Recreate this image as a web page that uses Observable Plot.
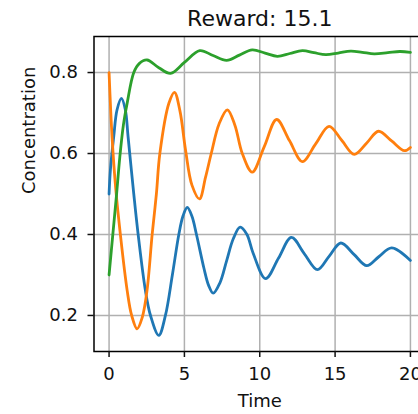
<!DOCTYPE html>
<html>
<head>
<meta charset="utf-8">
<script src="https://cdn.jsdelivr.net/npm/d3@7"></script>
<script src="https://cdn.jsdelivr.net/npm/@observablehq/plot@0.6"></script>
<style>
  html, body { margin: 0; padding: 0; background: white; overflow: hidden; }
  #chart { width: 418px; height: 414px; overflow: hidden; }
</style>
</head>
<body>
<div id="chart"></div>
<script>
const titleText = "Reward: 15.1";
const xLabel = "Time";
const yLabel = "Concentration";
const xTicks = [0, 5, 10, 15, 20];
const yTicks = [0.2, 0.4, 0.6, 0.8];
const seriesNames = ["s1", "s2", "s3"];
const seriesColors = ["#1f77b4", "#ff7f0e", "#2ca02c"];

const blueT = [0, 0.09, 0.31, 0.53, 0.82, 1.08, 1.26, 1.64, 1.93, 2.41, 2.75, 3.3, 3.74, 4.2, 4.63, 4.9, 5.19, 5.5, 5.8, 6.3, 6.6, 6.91, 7.35, 7.8, 8.25, 8.7, 9.15, 9.55, 10.39, 11.25, 12.1, 12.95, 13.83, 14.6, 15.38, 16.25, 17.1, 17.9, 18.75, 20];
const blueV = [0.50, 0.56, 0.642, 0.708, 0.736, 0.708, 0.642, 0.50, 0.40, 0.262, 0.20, 0.151, 0.20, 0.30, 0.40, 0.445, 0.467, 0.445, 0.40, 0.316, 0.275, 0.255, 0.28, 0.335, 0.39, 0.418, 0.40, 0.355, 0.291, 0.342, 0.393, 0.353, 0.313, 0.346, 0.379, 0.351, 0.323, 0.345, 0.367, 0.336];

const orangeT = [0, 0.2, 0.45, 0.75, 1.2, 1.5, 1.86, 2.2, 2.52, 2.86, 3.14, 3.37, 3.97, 4.34, 4.7, 5.07, 5.5, 6.0, 6.4, 6.78, 7.3, 7.85, 8.35, 8.84, 9.5, 10.3, 11.12, 11.97, 12.83, 13.7, 14.6, 15.45, 16.27, 17.1, 17.88, 18.75, 19.6, 20];
const orangeV = [0.80, 0.64, 0.51, 0.40, 0.262, 0.20, 0.167, 0.195, 0.262, 0.40, 0.50, 0.60, 0.724, 0.751, 0.706, 0.61, 0.522, 0.488, 0.541, 0.60, 0.673, 0.708, 0.67, 0.60, 0.554, 0.617, 0.684, 0.632, 0.58, 0.623, 0.667, 0.632, 0.598, 0.626, 0.655, 0.631, 0.607, 0.615];

const greenT = [0, 0.25, 0.5, 0.71, 0.95, 1.2, 1.64, 2.0, 2.52, 3.3, 4.08, 5.0, 6.02, 6.9, 7.8, 8.65, 9.5, 10.35, 11.17, 12.0, 12.83, 13.6, 14.38, 15.2, 16.04, 16.8, 17.6, 18.5, 19.3, 20];
const greenV = [0.30, 0.40, 0.50, 0.59, 0.67, 0.724, 0.80, 0.822, 0.831, 0.812, 0.798, 0.825, 0.854, 0.842, 0.83, 0.843, 0.856, 0.848, 0.84, 0.847, 0.854, 0.849, 0.844, 0.848, 0.853, 0.85, 0.846, 0.849, 0.852, 0.850];

const rows = [];
[[blueT, blueV], [orangeT, orangeV], [greenT, greenV]].forEach(([T, V], i) => {
  T.forEach((t, j) => rows.push({series: seriesNames[i], t, v: V[j]}));
});

const font = "DejaVu Sans";
const gridStyle = {stroke: "#b0b0b0", strokeOpacity: 1, strokeWidth: 1.5};

const chart = Plot.plot({
  width: 418,
  height: 414,
  marginLeft: 93.5,
  marginRight: -7,
  marginTop: 36,
  marginBottom: 63,
  style: {fontFamily: font, fontSize: "18px", color: "#111", background: "white"},
  x: {domain: [-1, 21]},
  y: {domain: [0.111, 0.889]},
  color: {domain: seriesNames, range: seriesColors},
  marks: [
    Plot.gridX(xTicks, gridStyle),
    Plot.gridY(yTicks, gridStyle),
    Plot.line(rows, {x: "t", y: "v", z: "series", stroke: "series", curve: "catmull-rom", strokeWidth: 2.8}),
    Plot.frame({stroke: "black", strokeWidth: 1.5}),
    Plot.axisX(xTicks, {tickSize: 6, tickPadding: 10, strokeWidth: 1.5, label: null, fontSize: 18}),
    Plot.axisY(yTicks, {tickSize: 6, tickPadding: 10, strokeWidth: 1.5, label: null, fontSize: 18, tickFormat: d3.format(".1f")}),
    Plot.text([titleText], {frameAnchor: "top", dy: -11, lineAnchor: "bottom", fontSize: 22, fill: "#111"}),
    Plot.text([xLabel], {frameAnchor: "bottom", dy: 55, lineAnchor: "bottom", fontSize: 18, fill: "#111"}),
    Plot.text([yLabel], {frameAnchor: "left", dx: -64.3, rotate: -90, lineAnchor: "middle", fontSize: 18, fill: "#111"})
  ]
});
document.getElementById("chart").appendChild(chart);
</script>
</body>
</html>
